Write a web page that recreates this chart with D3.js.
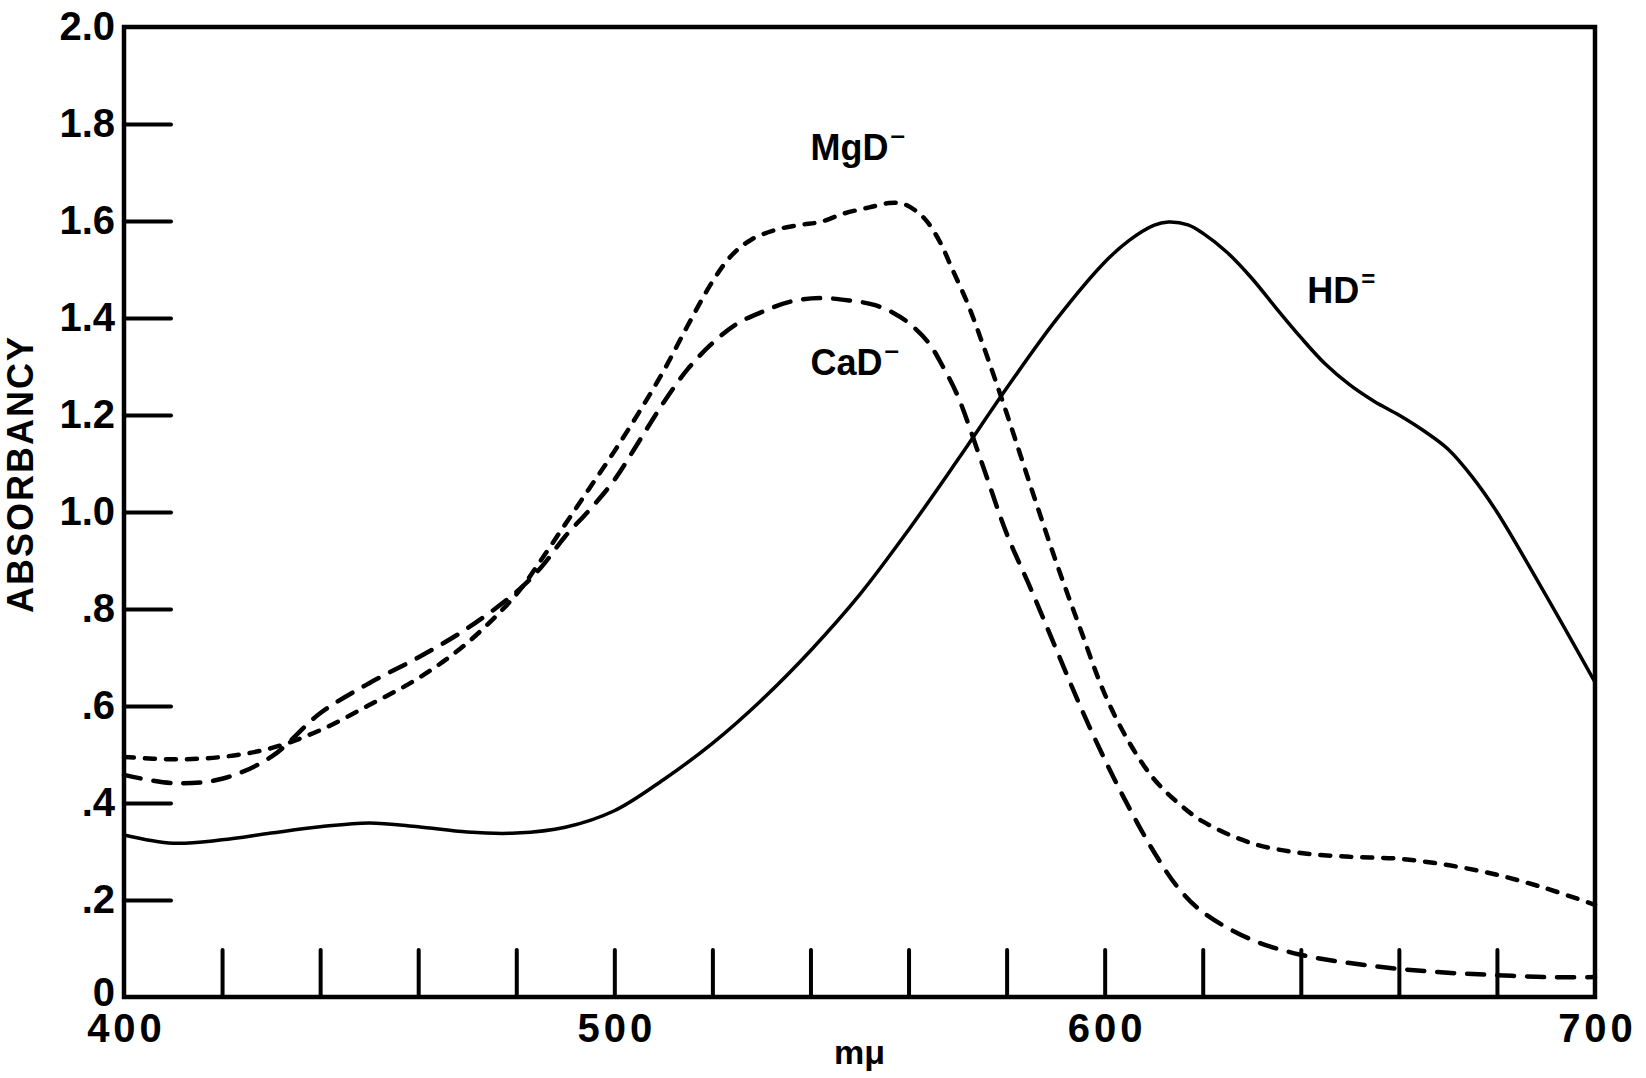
<!DOCTYPE html>
<html>
<head>
<meta charset="utf-8">
<script src="https://cdnjs.cloudflare.com/ajax/libs/d3/7.8.5/d3.min.js"></script>
<style>
  body { margin: 0; background: #fff; }
  text { font-family: "Liberation Sans", Arial, sans-serif; font-weight: bold; fill: #000; }
</style>
</head>
<body>
<div id="chart"></div>
<script>
// wavelength (m\u03bc) and absorbancy
var hdNm  = [400,410,420,430,440,450,460,470,480,490,500,510,520,530,540,550,560,570,580,590,600,605,610,613,617,620,625,630,635,640,645,650,655,660,665,670,675,680,690,700];
var hdAbs = [0.334,0.317,0.324,0.338,0.351,0.359,0.351,0.34,0.338,0.35,0.384,0.448,0.523,0.612,0.714,0.829,0.963,1.107,1.255,1.395,1.515,1.56,1.591,1.598,1.592,1.575,1.535,1.482,1.42,1.36,1.305,1.262,1.228,1.2,1.168,1.13,1.072,1.0,0.828,0.649];

var mgNm  = [400,410,420,430,440,450,460,470,480,485,490,495,500,505,510,515,520,524,528,533,538,542,547,552,556,559,562,564,566.5,569,572,575,580,585,590,595,600,605,610,615,620,630,640,650,660,670,680,690,700];
var mgAbs = [0.495,0.49,0.495,0.513,0.55,0.602,0.657,0.73,0.83,0.9,0.975,1.05,1.125,1.205,1.29,1.385,1.475,1.53,1.562,1.582,1.592,1.598,1.616,1.628,1.637,1.635,1.617,1.596,1.555,1.499,1.431,1.35,1.204,1.05,0.9,0.76,0.625,0.525,0.45,0.4,0.362,0.317,0.297,0.289,0.285,0.272,0.252,0.224,0.19];

var caNm  = [400,410,420,430,440,450,460,470,480,485,490,495,500,505,510,515,520,525,530,536,542,548,553,557,560,564,567,570,575,580,585,590,595,600,605,610,615,620,630,640,650,660,670,680,690,700];
var caAbs = [0.458,0.441,0.45,0.495,0.585,0.647,0.7,0.76,0.835,0.885,0.95,1.005,1.066,1.145,1.225,1.295,1.348,1.388,1.412,1.434,1.441,1.436,1.427,1.41,1.39,1.35,1.3,1.24,1.1,0.956,0.84,0.72,0.6,0.49,0.39,0.3,0.225,0.175,0.118,0.087,0.07,0.058,0.05,0.045,0.041,0.041];

var xMinorTicks = [420,440,460,480,500,520,540,560,580,600,620,640,660,680];
var xTickLabels = [400,500,600,700];
var yTicks = [0,0.2,0.4,0.6,0.8,1.0,1.2,1.4,1.6,1.8,2.0];
var yTickLabels = ["0",".2",".4",".6",".8","1.0","1.2","1.4","1.6","1.8","2.0"];

var width = 1646;
var height = 1078;
var margin = {top: 27, left: 124, right: 51, bottom: 81};
var w = width - margin.left - margin.right;
var h = height - margin.top - margin.bottom;

var svg = d3.select("#chart")
    .append("svg")
        .attr("width", width)
        .attr("height", height)
    .append("g")
        .attr("transform", "translate(" + margin.left + "," + margin.top + ")");

var xscale = d3.scaleLinear().domain([400, 700]).range([0, w]);
var yscale = d3.scaleLinear().domain([0, 2.0]).range([h, 0]);

// y axis: inward ticks, no tick line at 0 and 2.0
var y_axis = d3.axisLeft(yscale)
    .tickValues(yTicks)
    .tickFormat(function(d, i){ return yTickLabels[i]; })
    .tickSizeInner(-47)
    .tickSizeOuter(0)
    .tickPadding(9);
var gy = svg.append("g").call(y_axis);
gy.select(".domain").remove();
gy.selectAll(".tick line")
    .attr("stroke", "#000")
    .attr("stroke-width", 4)
    .attr("stroke-linecap", "round")
    .style("display", function(d){ return (d === 0 || d === 2.0) ? "none" : null; });
gy.selectAll(".tick text")
    .style("font-size", "40px")
    .attr("font-family", null)
    .attr("y", function(d){ return d === 0 ? -4 : 0; });

// x axis: inward ticks every 20
var x_minor = d3.axisBottom(xscale)
    .tickValues(xMinorTicks)
    .tickFormat("")
    .tickSizeInner(-47)
    .tickSizeOuter(0);
var gx = svg.append("g").attr("transform", "translate(0," + h + ")").call(x_minor);
gx.select(".domain").remove();
gx.selectAll(".tick line")
    .attr("stroke", "#000")
    .attr("stroke-width", 4)
    .attr("stroke-linecap", "round");

var x_labels = d3.axisBottom(xscale)
    .tickValues(xTickLabels)
    .tickSize(0)
    .tickPadding(17);
var gxl = svg.append("g").attr("transform", "translate(0," + h + ")").call(x_labels);
gxl.select(".domain").remove();
gxl.selectAll(".tick text")
    .style("font-size", "40px")
    .style("letter-spacing", "4px")
    .attr("font-family", null)
    .attr("dx", "2px");

// frame
svg.append("rect")
    .attr("x", 0).attr("y", 0)
    .attr("width", w).attr("height", h)
    .attr("fill", "none")
    .attr("stroke", "#000")
    .attr("stroke-width", 4.5);

var line = d3.line()
    .x(function(d){ return xscale(d[0]); })
    .y(function(d){ return yscale(d[1]); })
    .curve(d3.curveCatmullRom.alpha(0.5));

function pairs(nm, ab){
    return nm.map(function(v, i){ return [v, ab[i]]; });
}

svg.append("path")
    .datum(pairs(caNm, caAbs))
    .attr("d", line)
    .attr("fill", "none")
    .attr("stroke", "#000")
    .attr("stroke-width", 4.5)
    .attr("stroke-linecap", "round")
    .attr("stroke-dasharray", "17,13");

svg.append("path")
    .datum(pairs(mgNm, mgAbs))
    .attr("d", line)
    .attr("fill", "none")
    .attr("stroke", "#000")
    .attr("stroke-width", 4.5)
    .attr("stroke-linecap", "round")
    .attr("stroke-dasharray", "10,11");

svg.append("path")
    .datum(pairs(hdNm, hdAbs))
    .attr("d", line)
    .attr("fill", "none")
    .attr("stroke", "#000")
    .attr("stroke-width", 3.5);

// curve labels
function label(txt, sup, nm, ab, supSize, supDy){
    var t = svg.append("text")
        .attr("x", xscale(nm))
        .attr("y", yscale(ab))
        .style("font-size", "36px")
        .text(txt);
    t.append("tspan")
        .attr("dy", supDy)
        .attr("dx", 2)
        .style("font-size", supSize + "px")
        .text(sup);
}
label("MgD", "\u2013", 540, 1.726, 26, -16);
label("CaD", "\u2013", 540, 1.282, 26, -16);
label("HD", "=", 641.3, 1.431, 24, -16);

// axis titles
svg.append("text")
    .attr("transform", "translate(" + (-91) + "," + (h / 2 - 38) + ") rotate(-90)")
    .attr("text-anchor", "middle")
    .style("font-size", "36px")
    .style("letter-spacing", "2px")
    .text("ABSORBANCY");

svg.append("text")
    .attr("x", xscale(550))
    .attr("y", h + 67)
    .attr("text-anchor", "middle")
    .style("font-size", "34px")
    .text("m\u03bc");
</script>
</body>
</html>
